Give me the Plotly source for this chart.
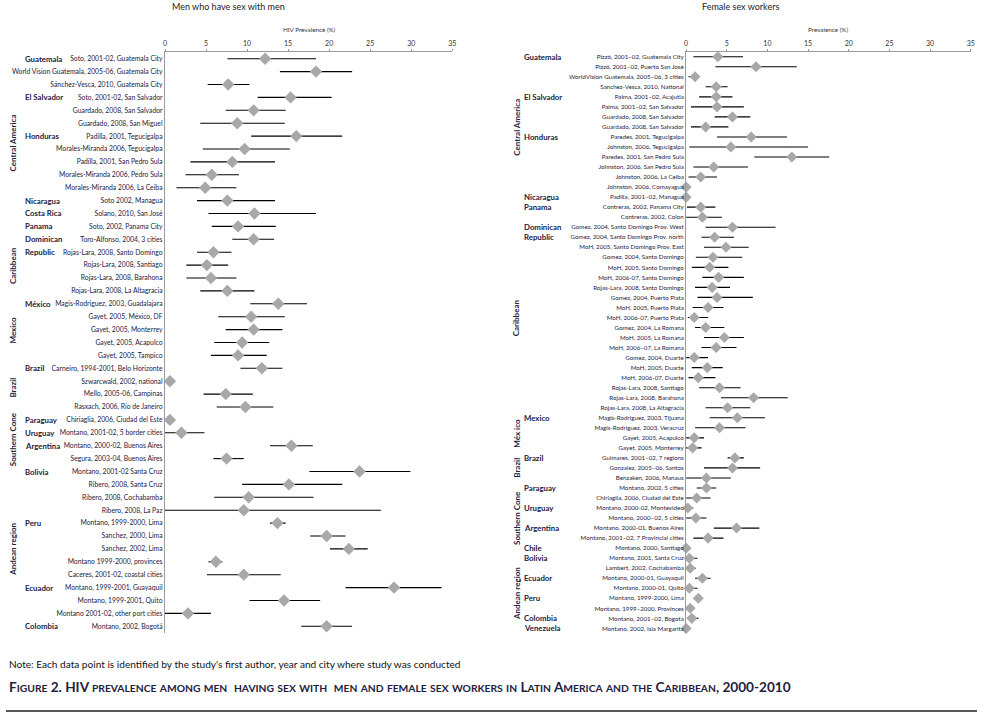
import plotly.graph_objects as go

# ---------------- Men who have sex with men ----------------
msm_study = [
    "Soto, 2001-02, Guatemala City",
    "World Vision Guatemala, 2005-06, Guatemala City",
    "Sánchez-Vesca, 2010, Guatemala City",
    "Soto, 2001-02, San Salvador",
    "Guardado, 2008, San Salvador",
    "Guardado, 2008, San Miguel",
    "Padilla, 2001, Tegucigalpa",
    "Morales-Miranda 2006, Tegucigalpa",
    "Padilla, 2001, San Pedro Sula",
    "Morales-Miranda 2006, Pedro Sula",
    "Morales-Miranda 2006, La Ceiba",
    "Soto 2002, Managua",
    "Solano, 2010, San José",
    "Soto, 2002, Panama City",
    "Toro-Alfonso, 2004, 3 cities",
    "Rojas-Lara, 2008, Santo Domingo",
    "Rojas-Lara, 2008, Santiago",
    "Rojas-Lara, 2008, Barahona",
    "Rojas-Lara, 2008, La Altagracia",
    "Magis-Rodriguez, 2003, Guadalajara",
    "Gayet, 2005, México, DF",
    "Gayet, 2005, Monterrey",
    "Gayet, 2005, Acapulco",
    "Gayet, 2005, Tampico",
    "Carneiro, 1994-2001, Belo Horizonte",
    "Szwarcwald, 2002, national",
    "Mello, 2005-06, Campinas",
    "Rasxach, 2006, Rio de Janeiro",
    "Chiriaglia, 2006, Ciudad del Este",
    "Montano, 2001-02, 5 border cities",
    "Montano, 2000-02, Buenos Aires",
    "Segura, 2003-04, Buenos Aires",
    "Montano, 2001-02 Santa Cruz",
    "Ribero, 2008, Santa Cruz",
    "Ribero, 2008, Cochabamba",
    "Ribero, 2008, La Paz",
    "Montano, 1999-2000, Lima",
    "Sanchez, 2000, Lima",
    "Sanchez, 2002, Lima",
    "Montano 1999-2000, provinces",
    "Caceres, 2001-02, coastal cities",
    "Montano, 1999-2001, Guayaquil",
    "Montano, 1999-2001, Quito",
    "Montano 2001-02, other port cities",
    "Montano, 2002, Bogotá",
]
msm_country = [
    "Guatemala", "", "", "El Salvador", "", "", "Honduras", "", "", "", "",
    "Nicaragua", "Costa Rica", "Panama", "Dominican", "Republic", "", "", "",
    "México", "", "", "", "", "Brazil", "", "", "",
    "Paraguay", "Uruguay", "Argentina", "", "Bolivia", "", "", "",
    "Peru", "", "", "", "", "Ecuador", "", "", "Colombia",
]
msm_prev = [12.2, 18.4, 7.7, 15.3, 10.8, 8.8, 16.0, 9.7, 8.2, 5.7, 4.9,
            7.6, 10.9, 8.9, 10.8, 5.9, 5.1, 5.6, 7.6,
            13.8, 10.5, 10.8, 9.4, 8.9,
            11.8, 0.6, 7.4, 9.8,
            0.6, 2.0, 15.4, 7.5,
            23.7, 15.1, 10.2, 9.6,
            13.7, 19.7, 22.4, 6.2, 9.6, 27.9, 14.5, 2.8, 19.7]
msm_low = [7.6, 14.0, 5.2, 11.3, 7.4, 4.3, 10.5, 4.6, 3.1, 2.5, 1.4,
           3.9, 5.3, 5.7, 8.2, 3.9, 2.6, 2.6, 4.3,
           10.4, 6.5, 7.4, 6.0, 5.6,
           9.2, 0.6, 4.7, 6.3,
           0.0, 0.0, 12.8, 5.9,
           17.6, 9.4, 6.0, 0.0,
           12.8, 17.7, 20.1, 5.3, 5.1, 22.0, 10.3, 0.0, 16.6]
msm_high = [18.4, 22.8, 10.3, 20.3, 14.7, 14.6, 21.6, 15.2, 13.4, 9.0, 8.7,
            13.4, 18.4, 13.5, 13.3, 8.1, 7.7, 8.7, 10.9,
            17.3, 14.6, 14.3, 12.7, 12.4,
            14.3, 0.6, 10.7, 13.2,
            1.2, 4.8, 18.0, 9.6,
            29.9, 21.6, 18.1, 26.3,
            14.7, 22.0, 24.7, 7.0, 14.1, 33.7, 18.9, 5.6, 22.8]
msm_regions = [("Central America", 1, 14), ("Caribbean", 15, 19), ("Mexico", 20, 24),
               ("Brazil", 25, 28), ("Southern Cone", 29, 32), ("Andean region", 33, 45)]

# ---------------- Female sex workers ----------------
fsw_study = [
    "Pizzó, 2001–02, Guatemala City",
    "Pizzó, 2001–02, Puerto San José",
    "WorldVision Guatemala, 2005–06, 3 cities",
    "Sanchez-Vesca, 2010, National",
    "Palma, 2001–02, Acajutla",
    "Palma, 2001–02, San Salvador",
    "Guardado, 2008, San Salvador",
    "Guardado, 2008, San Salvador",
    "Paredes, 2001, Tegucigalpa",
    "Johnston, 2006, Tegucigalpa",
    "Paredes, 2001, San Pedro Sula",
    "Johnston, 2006, San Pedro Sula",
    "Johnston, 2006, La Ceiba",
    "Johnston, 2006, Comayagua",
    "Padilla, 2001–02, Managua",
    "Contreras, 2002, Panama City",
    "Contreras, 2002, Colon",
    "Gomez, 2004, Santo Domingo Prov. West",
    "Gomez, 2004, Santo Domingo Prov. north",
    "MoH, 2005, Santo Domingo Prov. East",
    "Gomez, 2004, Santo Domingo",
    "MoH, 2005, Santo Domingo",
    "MoH, 2006-07, Santo Domingo",
    "Rojas-Lara, 2008, Santo Domingo",
    "Gomez, 2004, Puerto Plata",
    "MoH, 2005, Puerto Plata",
    "MoH, 2006-07, Puerto Plata",
    "Gomez, 2004, La Romana",
    "MoH, 2005, La Romana",
    "MoH, 2006–07, La Romana",
    "Gomez, 2004, Duarte",
    "MoH, 2005, Duarte",
    "MoH, 2006-07, Duarte",
    "Rojas-Lara, 2008, Santiago",
    "Rojas-Lara, 2008, Barahona",
    "Rojas-Lara, 2008, La Altagracia",
    "Magis-Rodriguez, 2003, Tijuana",
    "Magis-Rodriguez, 2003, Veracruz",
    "Gayet, 2005, Acapulco",
    "Gayet, 2005, Monterrey",
    "Guimares, 2001–02, 7 regions",
    "Gonzalez, 2005–06, Santos",
    "Benzaken, 2006, Manaus",
    "Montano, 2002, 5 cities",
    "Chiriaglia, 2006, Ciudad del Este",
    "Montano, 2000-02, Montevideo",
    "Montano, 2000–02, 5 cities",
    "Montano, 2000-01, Buenos Aires",
    "Montano, 2001–02, 7 Provincial cities",
    "Montano, 2000, Santiago",
    "Montano, 2001, Santa Cruz",
    "Lambert, 2002, Cochabamba",
    "Montano, 2000-01, Guayaquil",
    "Montano, 2000-01, Quito",
    "Montano, 1999-2000, Lima",
    "Montano, 1999–2000, Provinces",
    "Montano, 2001–02, Bogota",
    "Montano, 2002, Isla Margarita",
]
fsw_country = [
    "Guatemala", "", "", "", "El Salvador", "", "", "", "Honduras", "", "", "", "", "",
    "Nicaragua", "Panama", "", "Dominican", "Republic", "", "", "", "", "", "", "", "",
    "", "", "", "", "", "", "", "", "",
    "Mexico", "", "", "", "Brazil", "", "", "Paraguay", "", "Uruguay", "",
    "Argentina", "", "Chile", "Bolivia", "", "Ecuador", "", "Peru", "", "Colombia", "Venezuela",
]
fsw_prev = [3.9, 8.6, 1.1, 3.7, 3.7, 3.8, 5.7, 2.4, 8.0, 5.5, 13.0, 3.4, 1.8, 0.0, 0.0,
            1.8, 2.0, 5.7, 3.5, 4.9, 3.3, 2.9, 4.0, 3.2, 3.8, 2.7, 1.0, 2.4, 4.7, 3.7,
            1.0, 2.6, 1.5, 4.1, 8.3, 5.1,
            6.3, 4.1, 1.0, 0.8,
            6.0, 5.7, 2.5,
            2.5, 1.3, 0.2, 1.2, 6.2, 2.7, 0.0,
            0.4, 0.5, 2.0, 0.4, 1.5, 0.5, 0.7, 0.0]
fsw_low = [0.9, 3.6, 0.3, 2.4, 1.6, 0.6, 3.5, 0.6, 3.8, 0.4, 8.4, 0.9, 0.3, 0.0, 0.0,
           0.1, 0.0, 2.4, 1.9, 2.2, 1.2, 0.7, 2.0, 1.1, 1.4, 0.8, 0.2, 1.1, 2.2, 1.9,
           0.0, 0.7, 0.3, 1.6, 4.3, 2.4,
           2.9, 1.1, 0.0, 0.0,
           5.1, 2.2, 0.0,
           1.3, 0.0, 0.0, 0.0, 3.4, 0.9, 0.0,
           0.0, 0.0, 1.1, 0.0, 1.5, 0.5, 0.1, 0.0]
fsw_high = [7.0, 13.6, 1.6, 5.1, 5.7, 7.1, 7.9, 5.2, 12.4, 15.0, 17.6, 7.6, 3.8, 0.0, 0.0,
            3.6, 4.4, 11.0, 5.9, 7.7, 6.9, 5.2, 7.1, 5.4, 8.2, 4.6, 2.7, 4.7, 7.1, 6.2,
            2.7, 4.5, 3.6, 6.7, 12.5, 7.9,
            9.7, 7.3, 2.2, 1.9,
            7.1, 9.1, 5.5,
            3.7, 3.0, 0.9, 2.5, 9.0, 4.6, 0.0,
            1.4, 1.2, 3.0, 1.4, 1.5, 0.5, 1.5, 0.0]
fsw_regions = [("Central America", 1, 15), ("Caribbean", 18, 36), ("Méx ico", 37, 40),
               ("Brazil", 41, 43), ("Southern Cone", 44, 50), ("Andean region", 51, 58)]

x_ticks = [0, 5, 10, 15, 20, 25, 30, 35]

# ---------------- figure ----------------
W, H = 984, 717
NAVY = "#1d2140"
FONT = "Lato, Roboto, sans-serif"
GRAY_AX = "#9a9a9a"
DIAMOND = "#a8a8a8"

def px(x):
    return x / W

def py(y):
    return 1 - y / H

fig = go.Figure()

def add_panel(prev, low, high, xa, ya, msize):
    rows = list(range(1, len(prev) + 1))
    fig.add_trace(go.Scatter(
        x=prev, y=rows, xaxis=xa, yaxis=ya, mode="markers",
        marker=dict(symbol="diamond", size=msize, color=DIAMOND, line=dict(width=0)),
        error_x=dict(type="data", symmetric=False,
                     array=[h - p for h, p in zip(high, prev)],
                     arrayminus=[p - l for p, l in zip(prev, low)],
                     color="black", thickness=1.1, width=0),
        cliponaxis=False, showlegend=False, hoverinfo="skip"))

add_panel(msm_prev, msm_low, msm_high, "x", "y", 9.5)
add_panel(fsw_prev, fsw_low, fsw_high, "x2", "y2", 8.5)

xcommon = dict(range=[0, 35], tickvals=x_ticks, side="top", showline=True, linecolor=GRAY_AX,
               linewidth=1.2, ticks="outside", ticklen=2, tickcolor=GRAY_AX, showgrid=False,
               zeroline=False, tickfont=dict(size=7, color="#333", family=FONT), fixedrange=True)
ycommon = dict(tickmode="array", showline=True, linecolor=GRAY_AX, linewidth=1.2, ticks="",
               showgrid=False, zeroline=False, fixedrange=True)

fig.update_layout(
    width=W, height=H, autosize=False,
    margin=dict(l=0, r=0, t=0, b=0),
    paper_bgcolor="white", plot_bgcolor="white",
    font=dict(family=FONT, color=NAVY),
    xaxis=dict(domain=[px(164), px(453)], anchor="y", **xcommon),
    yaxis=dict(domain=[py(633), py(52)], anchor="x", range=[45.52, 0.48],
               tickvals=list(range(1, len(msm_study) + 1)), ticktext=msm_study,
               tickfont=dict(size=6.8, color=NAVY, family=FONT), **ycommon),
    xaxis2=dict(domain=[px(688.3), px(974.7)], anchor="y2", **xcommon),
    yaxis2=dict(domain=[py(633), py(51.7)], anchor="x2", range=[58.46, 0.5],
                tickvals=list(range(1, len(fsw_study) + 1)), ticktext=fsw_study,
                tickfont=dict(size=6.2, color=NAVY, family=FONT), **ycommon),
)

ann = []
def centered(text, x, y, size, color="#222"):
    return dict(text=text, x=px(x), y=py(y), xref="paper", yref="paper",
                xanchor="center", yanchor="middle", showarrow=False,
                font=dict(size=size, color=color))

ann.append(centered("Men who have sex with men", 228, 7, 9))
ann.append(centered("Female sex workers", 743, 7, 9))
ann.append(centered("HIV Prevalence (%)", 309, 29, 6.3, "#333"))
ann.append(centered("Prevalence (%)", 831, 29, 6.3, "#333"))

# country labels
for i, c in enumerate(msm_country):
    if c:
        ann.append(dict(text="<b>" + c + "</b>", x=px(21), y=i + 1, xref="paper", yref="y",
                        xanchor="left", yanchor="middle", showarrow=False,
                        font=dict(size=7.8, color=NAVY)))
for i, c in enumerate(fsw_country):
    if c:
        ann.append(dict(text="<b>" + c + "</b>", x=px(523), y=i + 1, xref="paper", yref="y2",
                        xanchor="left", yanchor="middle", showarrow=False,
                        font=dict(size=7.8, color=NAVY)))

# region labels (vertical)
for name, a, b in msm_regions:
    ann.append(dict(text="<b>" + name + "</b>", x=px(11), y=(a + b) / 2, xref="paper", yref="y",
                    xanchor="center", yanchor="middle", textangle=-90, showarrow=False,
                    font=dict(size=8, color=NAVY)))
for name, a, b in fsw_regions:
    ann.append(dict(text="<b>" + name + "</b>", x=px(518), y=(a + b) / 2, xref="paper", yref="y2",
                    xanchor="center", yanchor="middle", textangle=-90, showarrow=False,
                    font=dict(size=8, color=NAVY)))

# note and figure caption
ann.append(dict(text="Note: Each data point is identified by the study's first author, year and city where study was conducted",
                x=px(5), y=py(664), xref="paper", yref="paper", xanchor="left", yanchor="middle",
                showarrow=False, font=dict(size=10.1, color="#111")))

def small_caps(s, big=13.6, small=10.3):
    out, run, cur = [], "", None
    for ch in s:
        kind = "s" if ch.islower() else "b"
        if kind != cur and run:
            out.append((cur, run))
            run = ""
        cur = kind
        run += ch
    if run:
        out.append((cur, run))
    html = ""
    for k, r in out:
        if k == "s":
            html += '<span style="font-size:%spx">%s</span>' % (small, r.upper())
        else:
            html += '<span style="font-size:%spx">%s</span>' % (big, r)
    return "<b>" + html + "</b>"

caption = ("Figure 2. HIV prevalence among men  having sex with  men and female sex workers in "
           "Latin America and the Caribbean, 2000-2010")
ann.append(dict(text=small_caps(caption), x=px(5), y=py(687), xref="paper", yref="paper",
                xanchor="left", yanchor="middle", showarrow=False, font=dict(size=13.6, color=NAVY)))

fig.update_layout(annotations=ann)
fig.add_shape(type="line", xref="paper", yref="paper", x0=px(4), x1=px(981), y0=py(711), y1=py(711),
              line=dict(color="#222", width=1.5))

fig.write_html("out.html", config={"displayModeBar": False},
               post_script="document.body.style.margin='0px';")
